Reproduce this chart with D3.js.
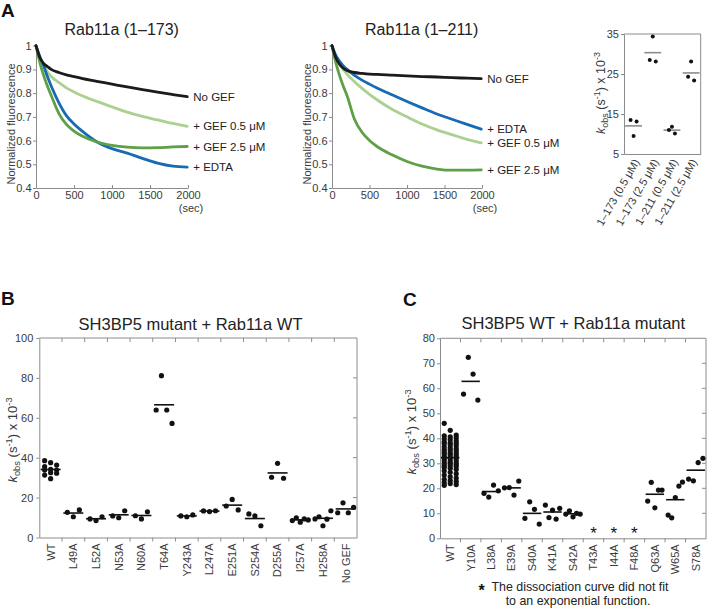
<!DOCTYPE html>
<html><head><meta charset="utf-8">
<script src="https://cdn.jsdelivr.net/npm/d3@7/dist/d3.min.js"></script>
<style>
html,body{margin:0;padding:0;background:#fff;}
svg{display:block;}
svg text{font-family:"Liberation Sans",Arial,Helvetica,sans-serif;}
</style></head><body>
<svg id="chart" width="707" height="608"></svg>
<script>
// ================= DATA =================
// Panel A: dissociation curves (time in s, normalized fluorescence)
const timesA = [0,50,100,150,200,300,400,500,600,800,1000,1200,1400,1600,1800,1990];
const xTicksA = [0,500,1000,1500,2000];
const yTicksA = [0.4,0.5,0.6,0.7,0.8,0.9,1];

const a173_noGEF = [1,0.95,0.925,0.912,0.9,0.887,0.877,0.87,0.862,0.85,0.838,0.826,0.815,0.804,0.794,0.785];
const a173_gef05 = [1,0.95,0.915,0.89,0.87,0.845,0.822,0.805,0.79,0.765,0.742,0.72,0.702,0.687,0.672,0.66];
const a173_gef25 = [1,0.93,0.875,0.83,0.79,0.715,0.668,0.64,0.62,0.594,0.58,0.572,0.569,0.57,0.573,0.575];
const a173_edta  = [1,0.955,0.915,0.87,0.83,0.76,0.705,0.67,0.642,0.595,0.566,0.547,0.525,0.505,0.492,0.488];

const a211_noGEF = [1,0.95,0.922,0.905,0.895,0.887,0.883,0.88,0.879,0.876,0.873,0.87,0.868,0.865,0.863,0.861];
const a211_edta  = [1,0.96,0.935,0.915,0.9,0.875,0.855,0.838,0.822,0.793,0.765,0.738,0.712,0.69,0.668,0.648];
const a211_gef05 = [1,0.955,0.925,0.9,0.88,0.848,0.82,0.795,0.772,0.732,0.7,0.67,0.645,0.625,0.605,0.59];
const a211_gef25 = [1,0.93,0.875,0.83,0.79,0.69,0.635,0.6,0.575,0.54,0.512,0.492,0.48,0.475,0.475,0.476];

const seriesLabelsA = {noGEF:"No GEF", gef05:"+ GEF 0.5 \u03bcM", gef25:"+ GEF 2.5 \u03bcM", edta:"+ EDTA"};

// Panel A (right): kobs summary
const catsA3 = ["1\u2013173 (0.5 \u03bcM)","1\u2013173 (2.5 \u03bcM)","1\u2013211 (0.5 \u03bcM)","1\u2013211 (2.5 \u03bcM)"];
const valsA3 = [[13.5,9.5,13.1],[28.5,34.4,28.1],[11.0,11.8,10.1],[24.3,28.1,23.4]];
const yTicksA3 = [5,15,25,35];

// Panel B
const catsB = ["WT","L49A","L52A","N53A","N60A","T64A","Y243A","L247A","E251A","S254A","D255A","I257A","H258A","No GEF"];
const valsB = [
  [38.5,37.5,36.3,35.5,34.2,33.8,33.8,32.5,32.2,31.3,29.5],
  [12.6,10.4,13.8],
  [9.3,8.5,10.4],
  [10.8,9.9,13.4],
  [10.9,9.3,12.9],
  [63.9,81.1,63.9,57.2],
  [10.8,10.4,11.3],
  [13.3,13.0,13.4],
  [15.8,19.1,13.8],
  [11.8,10.8,5.9],
  [30.2,37.2,29.7],
  [8.5,9.9,7.7,9.3,8.8],
  [9.3,10.4,5.9,9.2,13.4],
  [12.4,17.4,12.4,15.1]
];
const yTicksB = [0,20,40,60,80,100];

// Panel C
const catsC = ["WT","Y10A","L38A","E39A","S40A","K41A","S42A","T43A","I44A","F48A","Q63A","W65A","S78A"];
const valsC = [
  [46.0,43.2,41.3,41.0,40.6,40.2,39.8,39.5,39.0,38.6,38.2,37.9,37.4,37.0,36.6,36.2,35.8,35.3,35.0,34.6,34.2,33.8,33.5,33.1,32.8,32.4,32.0,31.7,31.3,31.0,30.6,30.2,29.9,29.5,29.1,28.7,28.4,28.0,27.5,27.0,26.4,25.8,25.3,24.6,24.1,23.6,23.1,22.7,22.3,21.9,21.5,21.2,38.0,34.0,30.0,29.0,32.5,35.5],
  [57.7,72.4,65.7,55.3],
  [18.0,16.5,21.3,19.0],
  [20.2,20.3,17.3,22.9],
  [8.0,14.6,11.6,5.7],
  [13.3,8.3,11.3,7.7,12.0],
  [9.7,11.0,8.6,10.0,9.7],
  [],[],[],
  [14.9,22.4,12.2,19.3,19.3],
  [9.3,8.2,16.3,20.9,22.5],
  [23.7,23.0,30.3,32.0]
];
const noFitC = ["T43A","I44A","F48A"];
const noFitLevelC = 3.6;
const yTicksC = [0,10,20,30,40,50,60,70,80];

// ================= DRAW =================
const svg = d3.select("#chart");
const FONT = '"Liberation Sans", Arial, Helvetica, sans-serif';
const AX = "#8c8c8c";
const TXT = "#3a3a3a";
const colorsA = {noGEF:"#1b1b1b", gef05:"#aad18f", gef25:"#5f9f46", edta:"#176ab3"};

function styleAxis(g, fs) {
  g.attr("font-family", FONT);
  g.select(".domain").attr("stroke", AX);
  g.selectAll(".tick line").attr("stroke", AX);
  g.selectAll(".tick text").attr("fill", TXT).attr("font-size", fs || 11);
}

function kobsLabel(x, y, fs) {
  const t = svg.append("text").attr("transform", `translate(${x},${y}) rotate(-90)`)
    .attr("text-anchor","middle").attr("font-size", fs).attr("fill", TXT);
  const sub = fs*0.72;
  t.append("tspan").attr("font-style","italic").text("k");
  t.append("tspan").attr("font-size", sub).attr("dy", fs*0.22).text("obs");
  t.append("tspan").attr("dy", -fs*0.22).text(" (s");
  t.append("tspan").attr("font-size", sub).attr("dy", -fs*0.38).text("-1");
  t.append("tspan").attr("dy", fs*0.38).text(") x 10");
  t.append("tspan").attr("font-size", sub).attr("dy", -fs*0.38).text("-3");
}

function panelLetter(t, x, y) {
  svg.append("text").attr("x", x).attr("y", y).attr("font-size", 19).attr("font-weight", "bold")
    .attr("fill", "#111").text(t);
}

// ---------- Panel A curve charts ----------
function curvePanel(o) {
  const x = d3.scaleLinear().domain([0,2000]).range([o.x0, o.x1]);
  const y = d3.scaleLinear().domain([0.4,1]).range([188, 45.7]);
  const g = svg.append("g");
  const ya = g.append("g").attr("transform", `translate(${o.x0},0)`)
    .call(d3.axisLeft(y).tickValues(yTicksA).tickFormat(d => d === 1 ? "1" : d3.format(".1f")(d))
      .tickSizeInner(3).tickSizeOuter(0).tickPadding(1.5));
  styleAxis(ya, 11);
  const xa = g.append("g").attr("transform", `translate(0,${y(0.4)})`)
    .call(d3.axisBottom(x).tickValues(xTicksA).tickFormat(d3.format("d"))
      .tickSizeInner(-3).tickSizeOuter(0).tickPadding(3));
  styleAxis(xa, 11);
  g.append("text").attr("x", x(2000) + 3).attr("y", 212).attr("text-anchor","middle")
    .attr("font-size", 11).attr("fill", TXT).text("(sec)");
  g.append("text").attr("transform", `translate(${o.x0 - 21},124) rotate(-90)`).attr("text-anchor","middle")
    .attr("font-size", 11).attr("fill", TXT).text("Normalized fluorescence");
  g.append("text").attr("x", o.titleX).attr("y", 35).attr("text-anchor","middle")
    .attr("font-size", 16).attr("fill", "#222").text(o.title);
  const line = d3.line().x((d,i) => x(timesA[i])).y(d => y(d)).curve(d3.curveMonotoneX);
  o.series.forEach(s => {
    g.append("path").attr("d", line(s.values)).attr("fill","none")
      .attr("stroke", colorsA[s.key]).attr("stroke-width", 2.8)
      .attr("stroke-linejoin","round").attr("stroke-linecap","round");
  });
  o.series.forEach(s => {
    const n = s.values.length;
    g.append("text").attr("x", x(timesA[n-1]) + 6).attr("y", y(s.values[n-1])).attr("dy","0.35em")
      .attr("font-size", 11.5).attr("fill", "#222").text(seriesLabelsA[s.key]);
  });
}

curvePanel({x0:36, x1:188, titleX:121.7, title:"Rab11a (1\u2013173)", series:[
  {key:"gef05", values:a173_gef05},
  {key:"edta", values:a173_edta},
  {key:"gef25", values:a173_gef25},
  {key:"noGEF", values:a173_noGEF}
]});
curvePanel({x0:332, x1:482, titleX:421.7, title:"Rab11a (1\u2013211)", series:[
  {key:"gef05", values:a211_gef05},
  {key:"gef25", values:a211_gef25},
  {key:"edta", values:a211_edta},
  {key:"noGEF", values:a211_noGEF}
]});

panelLetter("A", 1, 17);

// ---------- dot-plot helper ----------
function offsets(vals, bw, maxStep) {
  const n = vals.length;
  if (n > 6) {
    const order = d3.range(n).sort((a,b) => vals[b] - vals[a]);
    const off = new Array(n);
    order.forEach((idx,k) => { off[idx] = [-1,0,1][k % 3] * maxStep; });
    return off;
  }
  const step = n > 1 ? Math.min(maxStep, bw*0.7/(n-1)) : 0;
  return vals.map((v,i) => (i - (n-1)/2) * step);
}

function dotPanel(o) {
  const x = d3.scaleBand().domain(o.cats).range([o.x0, o.x1]).padding(0);
  const y = d3.scaleLinear().domain(o.yDomain).range([o.yBottom, o.yTop]);
  const bw = x.bandwidth();
  const g = svg.append("g");
  if (o.box) {
    g.append("line").attr("x1", o.x0).attr("x2", o.x1).attr("y1", o.yTop).attr("y2", o.yTop).attr("stroke", AX);
    g.append("line").attr("x1", o.x1).attr("x2", o.x1).attr("y1", o.yTop).attr("y2", o.yBottom).attr("stroke", AX);
  }
  const ya = g.append("g").attr("transform", `translate(${o.x0},0)`)
    .call(d3.axisLeft(y).tickValues(o.yTicks).tickSizeInner(3).tickSizeOuter(0).tickPadding(o.yPad));
  styleAxis(ya, 11);
  const xa = g.append("g").attr("transform", `translate(0,${o.yBottom})`)
    .call(d3.axisBottom(x).tickSizeInner(0).tickSizeOuter(0));
  styleAxis(xa, o.xFont);
  xa.selectAll(".tick text").attr("y", 0).attr("dy","0.35em").attr("text-anchor","end")
    .attr("transform", o.xRotate);
  if (o.boundaryTicks) {
    o.cats.slice(1).forEach(c => {
      const bx = x(c);
      g.append("line").attr("x1", bx).attr("x2", bx).attr("y1", o.yBottom).attr("y2", o.yBottom + 4).attr("stroke", AX);
      g.append("line").attr("x1", bx).attr("x2", bx).attr("y1", o.yTop).attr("y2", o.yTop + 4).attr("stroke", AX);
    });
    o.yTicks.slice(1, -1).forEach(v => {
      g.append("line").attr("x1", o.x1 - 4).attr("x2", o.x1).attr("y1", y(v)).attr("y2", y(v)).attr("stroke", AX);
    });
  }
  o.cats.forEach((c,i) => {
    const vals = o.vals[i];
    if (!vals.length) return;
    const m = d3.mean(vals);
    const cx = x(c) + bw/2;
    g.append("line").attr("x1", cx - bw*o.meanFrac).attr("x2", cx + bw*o.meanFrac)
      .attr("y1", y(m)).attr("y2", y(m)).attr("stroke", o.meanColor).attr("stroke-width", 1.6);
  });
  o.cats.forEach((c,i) => {
    const vals = o.vals[i];
    const off = offsets(vals, bw, o.step);
    const cx = x(c) + bw/2;
    vals.forEach((v,k) => {
      g.append("circle").attr("cx", cx + off[k]).attr("cy", y(v)).attr("r", o.r).attr("fill", "#111");
    });
  });
  return {x, y, g, bw};
}

// ---------- Panel A right ----------
dotPanel({cats:catsA3, vals:valsA3, x0:624, x1:700.7, yDomain:[5,35], yBottom:154, yTop:34,
  yTicks:yTicksA3, yPad:2, xFont:11, box:true, boundaryTicks:false,
  xRotate:"translate(3,6) rotate(-60)", meanFrac:0.44, meanColor:"#8c8c8c", step:3, r:2});
kobsLabel(605, 93, 12.5);

// ---------- Panel B ----------
dotPanel({cats:catsB, vals:valsB, x0:39.3, x1:357, yDomain:[0,100], yBottom:537.5, yTop:338,
  yTicks:yTicksB, yPad:3, xFont:11, box:true, boundaryTicks:true,
  xRotate:"translate(0,6) rotate(-90)", meanFrac:0.44, meanColor:"#111", step:6, r:2.6});
svg.append("text").attr("x", 190.5).attr("y", 330).attr("text-anchor","middle").attr("font-size", 16.5)
  .attr("fill","#222").text("SH3BP5 mutant + Rab11a WT");
kobsLabel(17, 440, 13);
panelLetter("B", 1, 305);

// ---------- Panel C ----------
const pC = dotPanel({cats:catsC, vals:valsC, x0:440, x1:706, yDomain:[0,80], yBottom:538.3, yTop:338.3,
  yTicks:yTicksC, yPad:2, xFont:11, box:true, boundaryTicks:true,
  xRotate:"translate(0,6) rotate(-90)", meanFrac:0.45, meanColor:"#111", step:6, r:2.6});
noFitC.forEach(c => {
  svg.append("text").attr("x", pC.x(c) + pC.bw/2).attr("y", pC.y(noFitLevelC) + 10)
    .attr("text-anchor","middle").attr("font-size", 17).attr("fill","#111").text("*");
});
svg.append("text").attr("x", 573.3).attr("y", 329).attr("text-anchor","middle").attr("font-size", 16.5)
  .attr("fill","#222").text("SH3BP5 WT + Rab11a mutant");
kobsLabel(416, 432, 13);
panelLetter("C", 403, 306);

// footnote
svg.append("text").attr("x", 481.7).attr("y", 596).attr("text-anchor","middle").attr("font-size", 16)
  .attr("font-weight","bold").attr("fill","#111").text("*");
svg.append("text").attr("x", 580).attr("y", 591).attr("text-anchor","middle").attr("font-size", 12.4)
  .attr("fill","#222").text("The dissociation curve did not fit");
svg.append("text").attr("x", 578).attr("y", 605).attr("text-anchor","middle").attr("font-size", 12.4)
  .attr("fill","#222").text("to an exponential function.");
</script></body></html>
